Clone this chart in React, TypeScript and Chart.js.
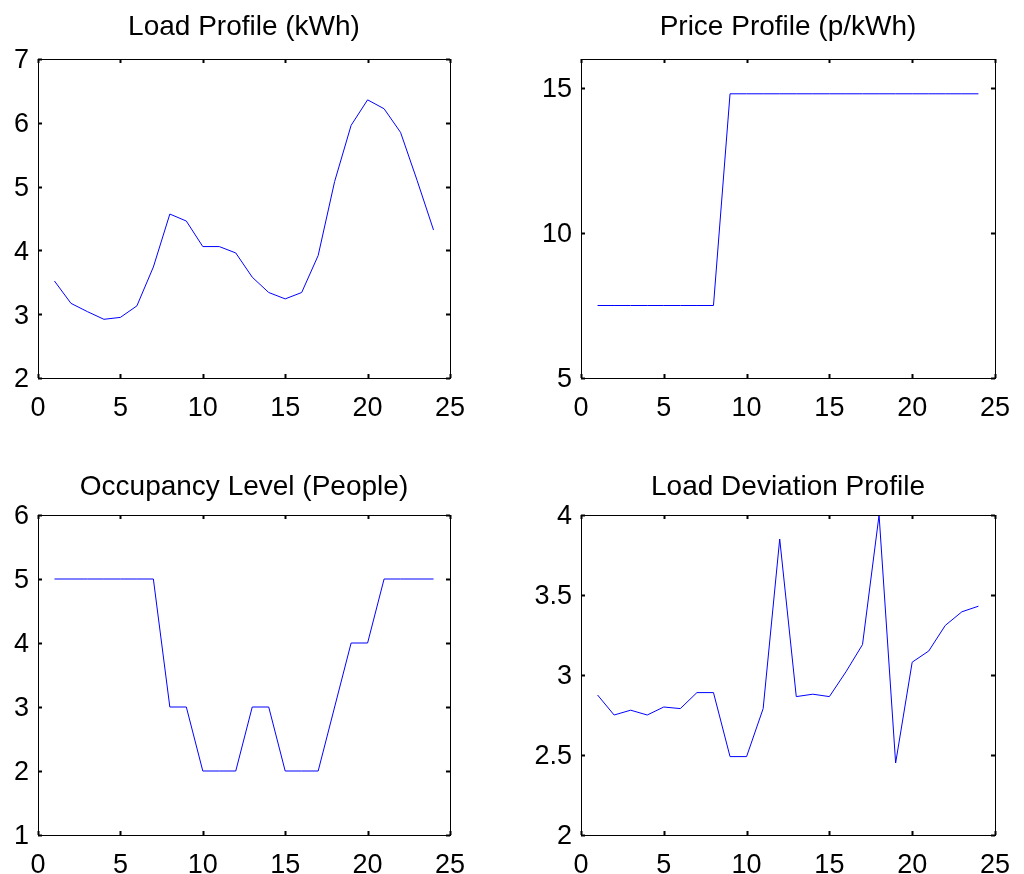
import React, { useEffect, useRef } from "react";
import { Chart, registerables } from "chart.js";

Chart.register(...registerables);

// ---- data ----
const hours = [1, 2, 3, 4, 5, 6, 7, 8, 9, 10, 11, 12, 13, 14, 15, 16, 17, 18, 19, 20, 21, 22, 23, 24];
const loadProfile = [3.52, 3.17, 3.04, 2.92, 2.95, 3.13, 3.74, 4.57, 4.46, 4.06, 4.06, 3.96, 3.58, 3.34, 3.24, 3.34, 3.92, 5.08, 5.96, 6.36, 6.22, 5.85, 5.1, 4.32];
const priceProfile = [7.5, 7.5, 7.5, 7.5, 7.5, 7.5, 7.5, 7.5, 14.8, 14.8, 14.8, 14.8, 14.8, 14.8, 14.8, 14.8, 14.8, 14.8, 14.8, 14.8, 14.8, 14.8, 14.8, 14.8];
const occupancy = [5, 5, 5, 5, 5, 5, 5, 3, 3, 2, 2, 2, 3, 3, 2, 2, 2, 3, 4, 4, 5, 5, 5, 5];
const loadDeviation = [2.875, 2.75, 2.78, 2.75, 2.8, 2.79, 2.89, 2.89, 2.49, 2.49, 2.79, 3.85, 2.865, 2.88, 2.865, 3.02, 3.19, 4.0, 2.45, 3.08, 3.15, 3.31, 3.395, 3.43];

const xTicks = [0, 5, 10, 15, 20, 25];
const loadTicks = [2, 3, 4, 5, 6, 7];
const priceTicks = [5, 10, 15];
const occTicks = [1, 2, 3, 4, 5, 6];
const devTicks = [2, 2.5, 3, 3.5, 4];

const titles = ["Load Profile (kWh)", "Price Profile (p/kWh)", "Occupancy Level (People)", "Load Deviation Profile"];

// ---- layout ----
const FONT = "'Liberation Sans', Arial, Helvetica, sans-serif";

type Panel = {
  title: string;
  values: number[];
  yMin: number;
  yMax: number;
  yTicks: number[];
  left: number;
  top: number;
  area: { l: number; r: number; t: number; b: number };
  titleCenter: number;
};

const panels: Panel[] = [
  { title: titles[0], values: loadProfile, yMin: 2, yMax: 7, yTicks: loadTicks, left: 0, top: 0, area: { l: 38, r: 450, t: 59, b: 378 }, titleCenter: 27.5 },
  { title: titles[1], values: priceProfile, yMin: 5, yMax: 16, yTicks: priceTicks, left: 512, top: 0, area: { l: 581, r: 995, t: 59, b: 378 }, titleCenter: 27.5 },
  { title: titles[2], values: occupancy, yMin: 1, yMax: 6, yTicks: occTicks, left: 0, top: 437, area: { l: 38, r: 450, t: 515, b: 835 }, titleCenter: 487 },
  { title: titles[3], values: loadDeviation, yMin: 2, yMax: 4, yTicks: devTicks, left: 512, top: 437, area: { l: 581, r: 995, t: 515, b: 835 }, titleCenter: 487 },
];

const CW = 512;
const CH = 437;
const TITLE_SIZE = 28;
const TICK_SIZE = 27;

const boxPlugin = {
  id: "matlabBox",
  afterDatasetsDraw(chart: any) {
    const { ctx, chartArea, scales } = chart;
    const { left, right, top, bottom } = chartArea;
    ctx.save();
    ctx.strokeStyle = "#000";
    ctx.lineWidth = 1;
    ctx.strokeRect(Math.round(left) + 0.5, Math.round(top) + 0.5, Math.round(right - left), Math.round(bottom - top));
    ctx.lineWidth = 2;
    const len = 4;
    scales.x.ticks.forEach((t: any) => {
      const px = Math.round(scales.x.getPixelForValue(t.value)) + 0.5;
      ctx.beginPath();
      ctx.moveTo(px, bottom);
      ctx.lineTo(px, bottom - len);
      ctx.moveTo(px, top);
      ctx.lineTo(px, top + len);
      ctx.stroke();
    });
    scales.y.ticks.forEach((t: any) => {
      const py = Math.round(scales.y.getPixelForValue(t.value)) + 0.5;
      ctx.beginPath();
      ctx.moveTo(left, py);
      ctx.lineTo(left + len, py);
      ctx.moveTo(right, py);
      ctx.lineTo(right - len, py);
      ctx.stroke();
    });
    ctx.restore();
  },
};

function PanelChart({ p }: { p: Panel }) {
  const ref = useRef<HTMLCanvasElement | null>(null);
  useEffect(() => {
    if (!ref.current) return;
    const yAxisW = p.area.l - p.left;
    const padRight = p.left + CW - p.area.r;
    const xAxisH = p.top + CH - p.area.b;
    const tCenter = p.titleCenter - p.top;
    const tTop = tCenter - TITLE_SIZE / 2;
    const tBottom = p.area.t - p.top - tTop - TITLE_SIZE;
    const chart = new Chart(ref.current, {
      type: "line",
      data: {
        datasets: [
          {
            data: hours.map((h, i) => ({ x: h, y: p.values[i] })),
            borderColor: "#0000ff",
            borderWidth: 1,
            pointRadius: 0,
            fill: false,
            tension: 0,
          },
        ],
      },
      options: {
        animation: false,
        responsive: false,
        devicePixelRatio: 1,
        layout: { padding: { left: 0, right: padRight, top: 0, bottom: 0 } },
        plugins: {
          legend: { display: false },
          tooltip: { enabled: false },
          title: {
            display: true,
            text: p.title,
            fullSize: false,
            color: "#000",
            font: { family: FONT, size: TITLE_SIZE, weight: "normal", lineHeight: 1 },
            padding: { top: tTop, bottom: tBottom },
          },
        },
        scales: {
          x: {
            type: "linear",
            min: 0,
            max: 25,
            grid: { display: false, drawTicks: false },
            border: { display: false },
            afterBuildTicks: (s: any) => {
              s.ticks = xTicks.map((v) => ({ value: v }));
            },
            afterFit: (s: any) => {
              s.height = xAxisH;
            },
            ticks: {
              color: "#000",
              padding: 14,
              maxRotation: 0,
              autoSkip: false,
              font: { family: FONT, size: TICK_SIZE, lineHeight: 1.2 },
            },
          },
          y: {
            type: "linear",
            min: p.yMin,
            max: p.yMax,
            grid: { display: false, drawTicks: false },
            border: { display: false },
            afterBuildTicks: (s: any) => {
              s.ticks = p.yTicks.map((v) => ({ value: v }));
            },
            afterFit: (s: any) => {
              s.width = yAxisW;
            },
            ticks: {
              color: "#000",
              padding: 9,
              labelOffset: 2,
              autoSkip: false,
              font: { family: FONT, size: TICK_SIZE, lineHeight: 1.2 },
              callback: (v: any) => String(v),
            },
          },
        },
      },
      plugins: [boxPlugin],
    } as any);
    return () => chart.destroy();
  }, [p]);
  return (
    <canvas
      ref={ref}
      width={CW}
      height={CH}
      style={{ position: "absolute", left: p.left, top: p.top, width: CW, height: CH }}
    />
  );
}

export default function App() {
  return (
    <div style={{ position: "absolute", left: 0, top: 0, width: 1024, height: 874, overflow: "hidden", background: "#fff" }}>
      {panels.map((p, i) => (
        <PanelChart key={i} p={p} />
      ))}
    </div>
  );
}
